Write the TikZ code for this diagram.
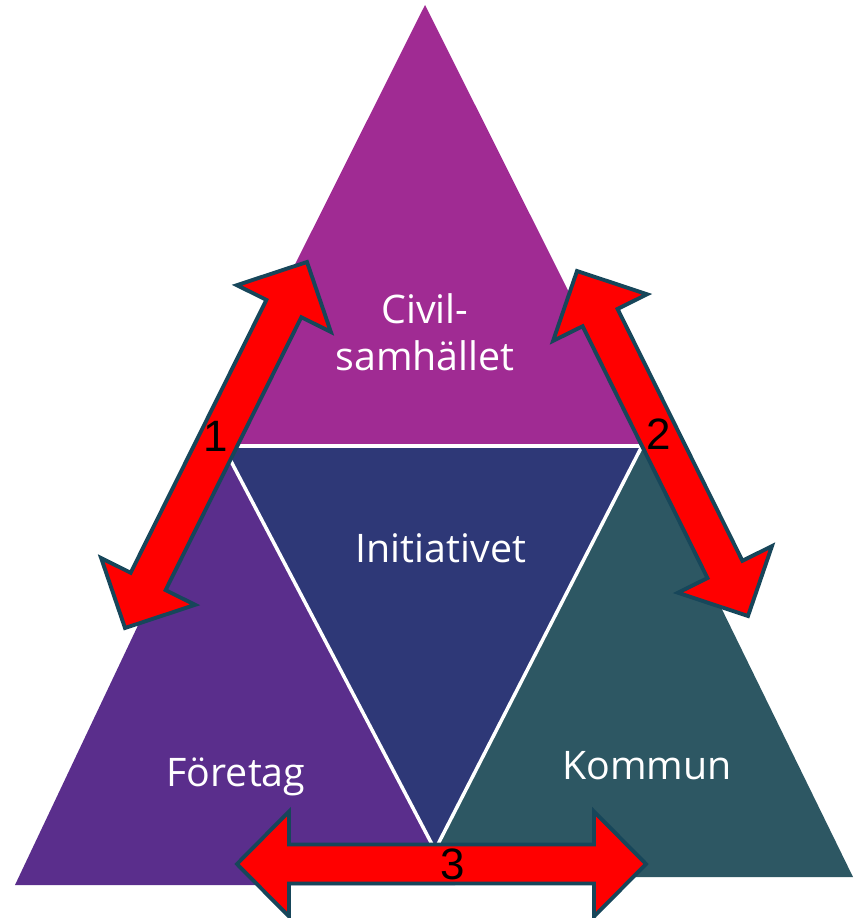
\documentclass[tikz,border=0pt]{standalone}
\usepackage{fontspec}
\setmainfont{Open Sans}
\newfontfamily\numfont{Liberation Sans}
\usetikzlibrary{calc}
\definecolor{civil}{HTML}{A02B93}
\definecolor{initiativ}{HTML}{2E3877}
\definecolor{foretag}{HTML}{5A2E8C}
\definecolor{kommun}{HTML}{2D5763}
\definecolor{arrowedge}{HTML}{17465A}
\newcommand{\twoway}[2]{%
    \path ($(#1)!1.04cm!(#2)$) coordinate (hA) ($(#2)!1.04cm!(#1)$) coordinate (hB);
    \draw [redarrow] (#1) -- ($(hA)!1.05cm!90:(#1)$) -- ($(hA)!0.39cm!90:(#1)$)
        -- ($(hB)!0.39cm!-90:(#2)$) -- ($(hB)!1.05cm!-90:(#2)$) -- (#2)
        -- ($(hB)!1.05cm!90:(#2)$) -- ($(hB)!0.39cm!90:(#2)$)
        -- ($(hA)!0.39cm!-90:(#1)$) -- ($(hA)!1.05cm!-90:(#1)$) -- cycle;
}

\begin{document}
\begin{tikzpicture}[
    x=0.02cm, y=-0.02cm,
    gap/.style={draw=white, line width=2pt},
    lbl/.style={text=white, align=center, font=\fontsize{22.4}{27}\selectfont},
    num/.style={text=black, font=\numfont\fontsize{25}{25}\selectfont},
    redarrow/.style={fill=red, draw=arrowedge, line width=2.2pt, line join=miter}
]
    \useasboundingbox (0,0) rectangle (853,918);

    \coordinate (top) at (425,5);
    \coordinate (topL) at (204,446);
    \coordinate (topR) at (646,446);
    \coordinate (midL) at (223,446);
    \coordinate (midR) at (642,446);
    \coordinate (midB) at (435,850);
    \coordinate (lefL) at (15,885);
    \coordinate (lefR) at (455,885);
    \coordinate (rigL) at (421,877);
    \coordinate (rigR) at (853,877);

    \fill [civil] (top) -- (topL) -- (topR) -- cycle;
    \fill [foretag] (midL) -- (lefL) -- (lefR) -- cycle;
    \fill [kommun] (midR) -- (rigL) -- (rigR) -- cycle;
    \fill [initiativ] (midL) -- (midR) -- (midB) -- cycle;
    \draw [gap] (topL) -- (topR);
    \draw [gap] (midL) -- (midB) -- (midR);

    \node [lbl] (civ) at (425,332) {Civil-\\samhället};
    \node [lbl] (ini) at (441,548) {Initiativet};
    \node [lbl] (fto) at (236,777) {Företag};
    \node [lbl] (kom) at (647,766) {Kommun};

    \coordinate (a1) at (307,262);
    \coordinate (b1) at (125,628);
    \coordinate (a2) at (577,271);
    \coordinate (b2) at (748,616);
    \coordinate (a3) at (237,864);
    \coordinate (b3) at (646,864);
    \twoway{a1}{b1}
    \twoway{a2}{b2}
    \twoway{a3}{b3}

    \node [num] (n1) at (216,436) {1};
    \node [num] (n2) at (659,434) {2};
    \node [num] (n3) at (453,864) {3};
\end{tikzpicture}
\end{document}
